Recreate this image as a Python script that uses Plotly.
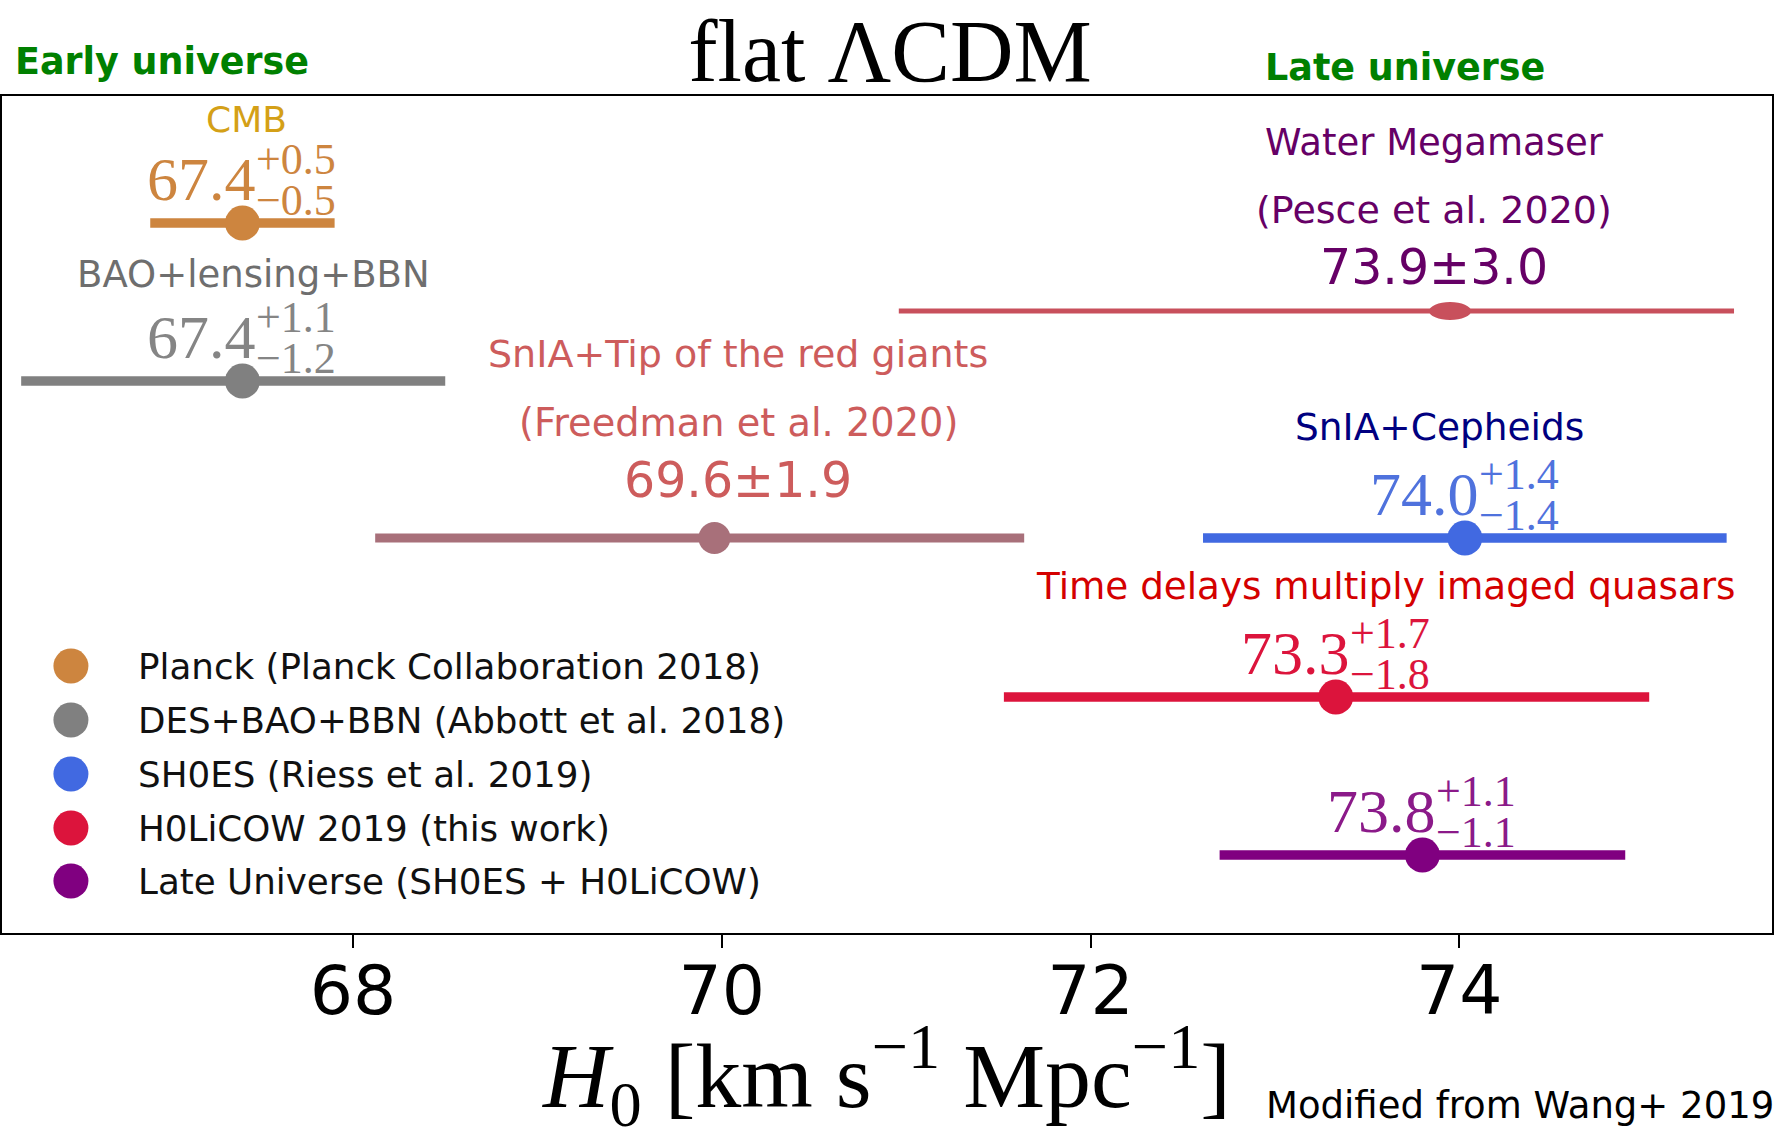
import plotly.graph_objects as go

# ---------------- data ----------------
legend_names = [
    "Planck (Planck Collaboration 2018)",
    "DES+BAO+BBN (Abbott et al. 2018)",
    "SH0ES (Riess et al. 2019)",
    "H0LiCOW 2019 (this work)",
    "Late Universe (SH0ES + H0LiCOW)",
]
probe_labels = ["CMB", "BAO+lensing+BBN", "SnIA+Cepheids", "Time delays multiply imaged quasars", ""]
h0_values = [67.4, 67.4, 74.03, 73.33, 73.8]
err_plus = [0.5, 1.1, 1.42, 1.7, 1.1]
err_minus = [0.5, 1.2, 1.42, 1.8, 1.1]

# measurements pasted onto the figure
extra_labels = ["SnIA+Tip of the red giants", "Water Megamaser"]
extra_refs = ["(Freedman et al. 2020)", "(Pesce et al. 2020)"]
extra_quoted = ["69.6±1.9", "73.9±3.0"]
extra_center = [69.96, 73.95]
extra_low = [68.12, 70.96]
extra_high = [71.64, 75.49]

tick_values = [68, 70, 72, 74]
x_range = [66.096, 75.696]

# ---------------- style / layout ----------------
W, H = 1776, 1140
ML, MR, MT, MB = 2, 2, 96, 207
PW, PH = W - ML - MR, H - MT - MB

colors = ["#CD853F", "#808080", "#4169E1", "#DC143C", "#800080"]
label_colors = ["#D4A017", "#6E6E6E", "#000080", "#D40000", "#800080"]
value_colors = ["#CD853F", "#858585", "#4F72DD", "#DC143C", "#8B1A89"]
row_level = [127, 285, 442, 601, 759]          # px from top of plot area
label_rise = [104, 107, 111, 111, 111]          # px above the row
label_dx = [0.02, 0.06, -0.14, 0.27, 0.0]       # label centre offset from value (axis units)
label_size = [36, 37, 37.5, 37.3, 37]
extra_colors = ["#A8707A", "#C8505C"]
extra_text_colors = ["#CD5C5C", "#660066"]
extra_row = [442, 215]
extra_text_x = [70.09, 73.865]
extra_sizes = [(38, 38.3, 49), (37, 38, 49)]
legend_rows = [570, 624, 678, 732, 785]

SANS = "DejaVu Sans"
SERIF = "Liberation Serif, DejaVu Serif, serif"

fig = go.Figure()

# main measurements
for i in range(len(h0_values)):
    fig.add_trace(go.Scatter(
        x=[h0_values[i]], y=[row_level[i]], mode="markers",
        marker=dict(size=35, color=colors[i]),
        error_x=dict(type="data", symmetric=False, array=[err_plus[i]],
                     arrayminus=[err_minus[i]], color=colors[i], thickness=9.5, width=0),
        showlegend=False, name=legend_names[i], hoverinfo="x+name",
    ))

# pasted measurements
for j in range(len(extra_center)):
    fig.add_trace(go.Scatter(
        x=[extra_center[j]], y=[extra_row[j]], mode="markers",
        marker=dict(size=32 if j == 0 else 1, color=extra_colors[j], opacity=1 if j == 0 else 0),
        error_x=dict(type="data", symmetric=False,
                     array=[extra_high[j] - extra_center[j]],
                     arrayminus=[extra_center[j] - extra_low[j]],
                     color=extra_colors[j], thickness=9 if j == 0 else 5, width=0),
        showlegend=False, name=extra_labels[j] + " " + extra_refs[j], hoverinfo="x+name",
    ))

shapes = [dict(type="circle", xref="x", yref="y", xsizemode="pixel", ysizemode="pixel",
               xanchor=extra_center[1], yanchor=extra_row[1], x0=-21, x1=21, y0=-9, y1=9,
               fillcolor=extra_colors[1], line=dict(width=0), layer="above")]

# manual legend (large markers) on a pixel overlay axis
fig.add_trace(go.Scatter(
    x=[69] * len(legend_names), y=legend_rows, xaxis="x2", yaxis="y",
    mode="markers", marker=dict(size=35, color=colors),
    showlegend=False, hoverinfo="text", hovertext=legend_names,
))

ann = []
for i, name in enumerate(legend_names):
    ann.append(dict(xref="x2", yref="y", x=134, y=legend_rows[i], text=name, showarrow=False,
                    xanchor="left", yanchor="middle", font=dict(family=SANS, size=35.7, color="#111111")))

def fmt(v):
    return f"{v:.1f}"

for i in range(len(h0_values)):
    xc = h0_values[i]
    r = row_level[i]
    if probe_labels[i]:
        ann.append(dict(x=xc + label_dx[i], y=r - label_rise[i], xref="x", yref="y",
                        text=probe_labels[i], showarrow=False, xanchor="center", yanchor="middle",
                        font=dict(family=SANS, size=label_size[i], color=label_colors[i])))
    ann.append(dict(x=xc, y=r - 44, xref="x", yref="y", text=fmt(xc), showarrow=False,
                    xanchor="right", yanchor="middle", xshift=16,
                    font=dict(family=SERIF, size=62, color=value_colors[i])))
    ann.append(dict(x=xc, y=r - 64, xref="x", yref="y", text="+" + fmt(err_plus[i]), showarrow=False,
                    xanchor="left", yanchor="middle", xshift=12,
                    font=dict(family=SERIF, size=44, color=value_colors[i])))
    ann.append(dict(x=xc, y=r - 23, xref="x", yref="y", text="−" + fmt(err_minus[i]), showarrow=False,
                    xanchor="left", yanchor="middle", xshift=12,
                    font=dict(family=SERIF, size=44, color=value_colors[i])))

extra_offsets = [(-184, -116, -58), (-169, -101, -44)]
for j in range(len(extra_center)):
    o1, o2, o3 = extra_offsets[j]
    s1, s2, s3 = extra_sizes[j]
    r = extra_row[j]
    for txt, off, sz in [(extra_labels[j], o1, s1), (extra_refs[j], o2, s2), (extra_quoted[j], o3, s3)]:
        ann.append(dict(x=extra_text_x[j], y=r + off, xref="x", yref="y", text=txt, showarrow=False,
                        xanchor="center", yanchor="middle",
                        font=dict(family=SANS, size=sz, color=extra_text_colors[j])))

def px(xf):
    return (xf - ML) / PW

def py(yf):
    return (H - MB - yf) / PH

ann.append(dict(xref="paper", yref="paper", x=px(162), y=py(62), text="<b>Early universe</b>",
                showarrow=False, xanchor="center", yanchor="middle",
                font=dict(family=SANS, size=36.5, color="#008000")))
ann.append(dict(xref="paper", yref="paper", x=px(1407), y=py(68), text="<b>Late universe</b>",
                showarrow=False, xanchor="center", yanchor="middle",
                font=dict(family=SANS, size=36.5, color="#008000")))
ann.append(dict(xref="paper", yref="paper", x=1.0, y=py(1105), text="Modified from Wang+ 2019",
                showarrow=False, xanchor="right", yanchor="middle", xshift=4,
                font=dict(family=SANS, size=37, color="#000000")))

fig.update_layout(
    width=W, height=H,
    margin=dict(l=ML, r=MR, t=MT, b=MB, pad=0),
    paper_bgcolor="white", plot_bgcolor="white",
    title=dict(text="flat ΛCDM", x=890 / W, y=1 - 50 / H, xref="container", yref="container",
               xanchor="center", yanchor="middle",
               font=dict(family=SERIF, size=88, color="black")),
    xaxis=dict(range=x_range, tickvals=tick_values, ticktext=[str(t) for t in tick_values],
               ticks="outside", ticklen=13, tickwidth=1.5, tickcolor="black",
               ticklabelstandoff=-16,
               showline=True, mirror=True, linecolor="black", linewidth=2,
               showgrid=False, zeroline=False,
               tickfont=dict(family=SANS, size=68, color="black"),
               title=dict(text="<i>H</i><sub>0</sub> [km s<sup>−1</sup> Mpc<sup>−1</sup>]",
                          font=dict(family=SERIF, size=92, color="black"), standoff=31)),
    xaxis2=dict(range=[0, PW], overlaying="x", anchor="y", visible=False),
    yaxis=dict(range=[PH, 0], showticklabels=False, ticks="", showline=True, mirror=True,
               linecolor="black", linewidth=2, showgrid=False, zeroline=False),
    annotations=ann, shapes=shapes, showlegend=False,
)

fig.write_html("out.html")
